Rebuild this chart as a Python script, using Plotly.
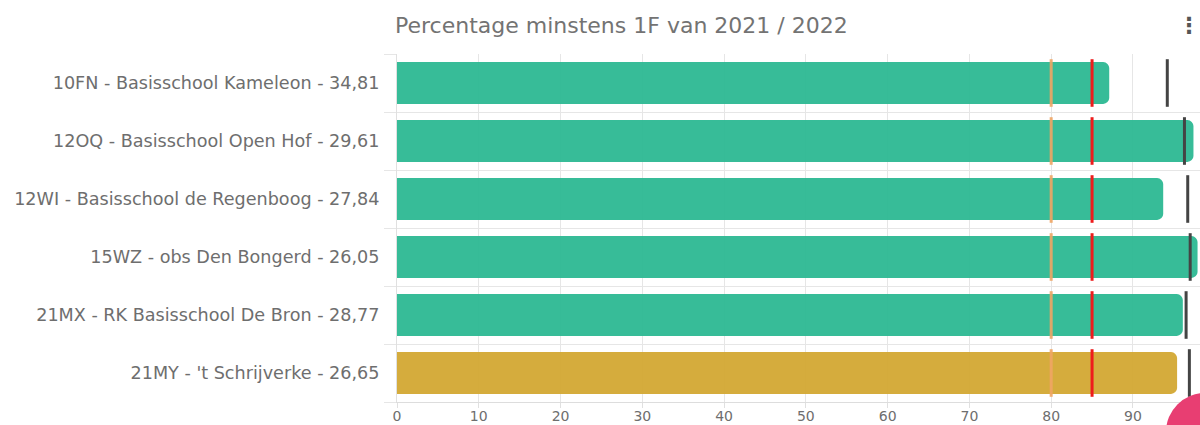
import plotly.graph_objects as go

title = "Percentage minstens 1F van 2021 / 2022"
categories = [
    "10FN - Basisschool Kameleon - 34,81",
    "12OQ - Basisschool Open Hof - 29,61",
    "12WI - Basisschool de Regenboog - 27,84",
    "15WZ - obs Den Bongerd - 26,05",
    "21MX - RK Basisschool De Bron - 28,77",
    "21MY - 't Schrijverke - 26,65",
]
values = [87.1, 97.4, 93.7, 97.9, 96.1, 95.4]
bar_colors = ["#2fb994", "#2fb994", "#2fb994", "#2fb994", "#2fb994", "#d3a935"]
orange_target = [80, 80, 80, 80, 80, 80]
red_target = [85, 85, 85, 85, 85, 85]
black_marker = [94.2, 96.3, 96.7, 97.0, 96.5, 96.9]
x_ticks = [0, 10, 20, 30, 40, 50, 60, 70, 80, 90]

FONT = "DejaVu Sans"
positions = list(range(len(categories)))
bounds = [p - 0.5 for p in positions] + [positions[-1] + 0.5]

fig = go.Figure()
fig.add_trace(go.Bar(
    x=values, y=positions, orientation="h", width=0.72,
    marker=dict(color=bar_colors, opacity=0.96, line=dict(width=0), cornerradius=6),
    showlegend=False,
))
for series, color, lw in [
    (orange_target, "rgba(240,165,100,0.9)", 3),
    (red_target, "#ee1c1c", 3),
    (black_marker, "#444444", 3),
]:
    fig.add_trace(go.Scatter(
        x=series, y=positions, mode="markers", showlegend=False,
        marker=dict(symbol="line-ns", size=34, line=dict(color=color, width=lw)),
    ))

fig.update_layout(
    width=1200, height=425, paper_bgcolor="white", plot_bgcolor="white",
    margin=dict(l=397, r=0, t=54, b=23),
    font=dict(family=FONT, color="#6e6e6e"),
    title=dict(text=title, x=395 / 1200, xanchor="left", y=1 - 25 / 425, yanchor="middle",
               font=dict(family=FONT, size=22, color="#737373")),
    xaxis=dict(
        automargin=False,
        range=[0, 98.2], tickvals=x_ticks, showgrid=True, gridcolor="#e6e6e6", gridwidth=1,
        zeroline=False, ticks="outside", ticklen=5, tickcolor="#e0e0e0",
        ticklabelstandoff=-4,
        tickfont=dict(size=14, color="#6e6e6e"),
        showline=True, linecolor="#dddddd",
    ),
    yaxis=dict(
        automargin=False,
        range=[5.5, -0.5], tickvals=positions, ticktext=categories, showgrid=False,
        zeroline=False, ticks="", ticklabelstandoff=13,
        tickfont=dict(size=17.6, color="#6e6e6e"),
        minor=dict(tickvals=bounds, showgrid=True, gridcolor="#e6e6e6", gridwidth=1,
                   ticks="outside", ticklen=12, tickcolor="#e6e6e6"),
        showline=True, linecolor="#e0e0e0",
    ),
    annotations=[
        dict(text="<b>⋮</b>", xref="x", yref="y", x=98.2, y=-0.5, yshift=29, xshift=2, xanchor="right", yanchor="middle",
             showarrow=False, font=dict(family="DejaVu Sans", size=22, color="#555555")),
    ],
    shapes=[
        dict(type="circle", xref="paper", yref="paper", layer="above",
             x0=(1166 - 397) / 803, x1=(1244 - 397) / 803,
             y0=(402 - 471) / 348, y1=(402 - 393) / 348,
             fillcolor="#e83e72", line=dict(width=0)),
    ],
)
fig.write_html("out.html", config=dict(displayModeBar=False),
               post_script="document.body.style.margin='0';document.body.style.overflow='hidden';")
